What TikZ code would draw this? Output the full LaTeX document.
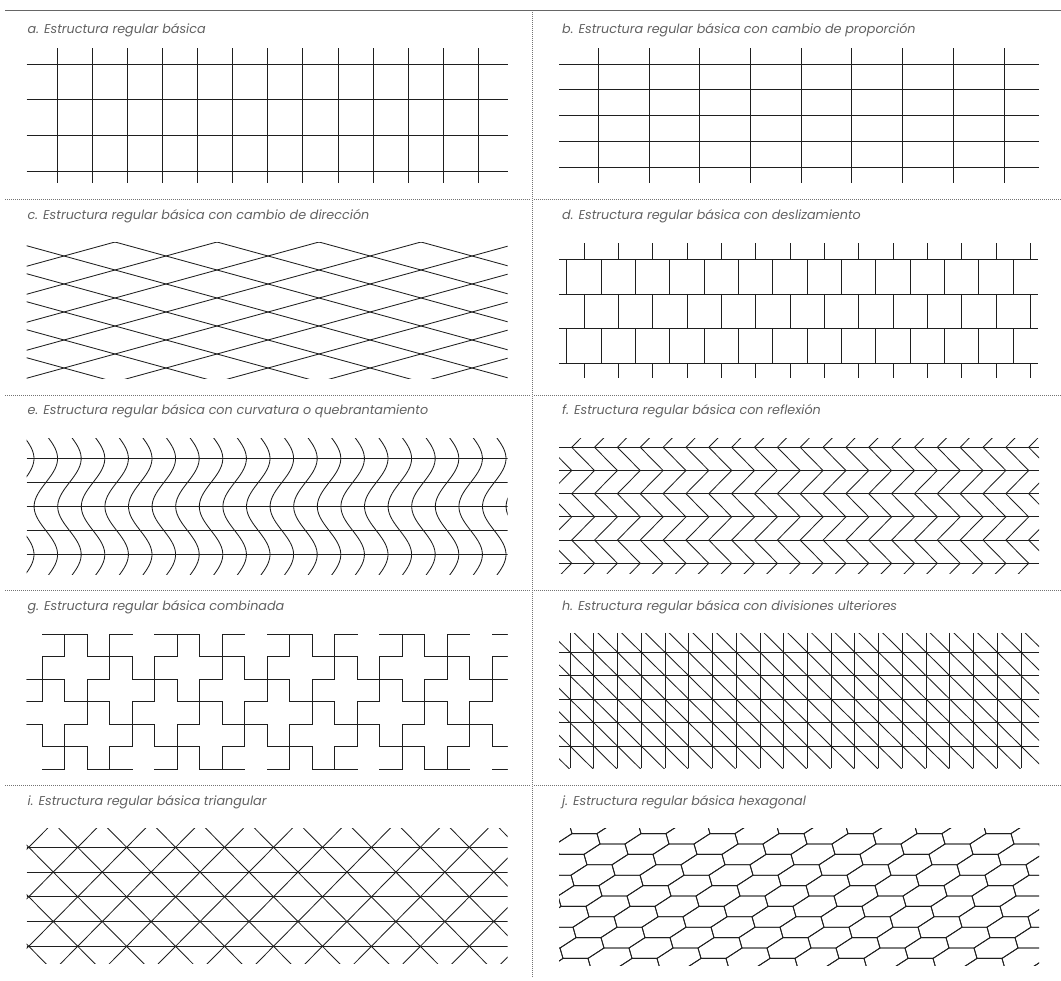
\documentclass[tikz,border=0pt]{standalone}
\usepackage{fontspec}
\newfontfamily\capfont{Poppins}
\usetikzlibrary{calc}

\begin{document}
\begin{tikzpicture}[x=1pt,y=-1pt,
  pat/.style={line width=0.85pt,black!88},
  sep/.style={black!55,line width=0.7pt,dash pattern=on 0.7pt off 1.3pt},
  lbl/.style={anchor=base west,inner sep=0pt,text=black!62,
    font=\capfont\itshape\fontsize{12.75}{15}\selectfont}]
  \useasboundingbox (0,0) rectangle (1061,981);
  % Frame
  \draw[black!60,line width=1.8pt] (5,10.5) -- (1061,10.5);
  \foreach \y in {199.7,395,590,785} {
    \draw[sep] (5,\y) -- (530,\y);
    \draw[sep] (534,\y) -- (1061,\y);
  }
  \draw[sep] (532.3,12) -- (532.3,977);
  % Labels
  \node[lbl] (la) at (27.5,33.5) {a. Estructura regular básica};
  \node[lbl] (lb) at (562,33.5) {b. Estructura regular básica con cambio de proporción};
  \node[lbl] (lc) at (27.5,220) {c. Estructura regular básica con cambio de dirección};
  \node[lbl] (ld) at (562,220) {d. Estructura regular básica con deslizamiento};
  \node[lbl] (le) at (27.5,415) {e. Estructura regular básica con curvatura o quebrantamiento};
  \node[lbl] (lf) at (562,415) {f. Estructura regular básica con reflexión};
  \node[lbl] (lg) at (27.5,610) {g. Estructura regular básica combinada};
  \node[lbl] (lh) at (562,610) {h. Estructura regular básica con divisiones ulteriores};
  \node[lbl] (li) at (27.5,805) {i. Estructura regular básica triangular};
  \node[lbl] (lj) at (562,805) {j. Estructura regular básica hexagonal};

  % a. square grid
  \foreach \k in {0,...,3}
    \draw[pat] (26.7,{64+35.65*\k}) -- (507.7,{64+35.65*\k});
  \foreach \k in {0,...,12}
    \draw[pat] ({57.3+35.08*\k},48.3) -- ({57.3+35.08*\k},183.3);

  % b. changed proportion
  \foreach \k in {0,...,4}
    \draw[pat] (559,{64+25.9*\k}) -- (1039,{64+25.9*\k});
  \foreach \k in {0,...,8}
    \draw[pat] ({598.3+50.71*\k},48.3) -- ({598.3+50.71*\k},183.3);

  % c. changed direction
  \begin{scope}
    \clip (26.7,242.5) rectangle (507.7,378.3);
    \foreach \n in {-5,...,10} {
      \draw[pat] ({13+102*\n-102},214) -- ++(612,168);
      \draw[pat] ({115+102*\n+102},214) -- ++(-612,168);
    }
  \end{scope}

  % d. sliding rows
  \foreach \k in {0,...,3}
    \draw[pat] (559,{259.3+34.67*\k}) -- (1038,{259.3+34.67*\k});
  \foreach \ya/\yb/\xo in {243.3/259.3/584,259.3/294/566.7,294/328.7/584,
                           328.7/363.3/566.7,363.3/378.3/584}
    \foreach \k in {0,...,13}
      \draw[pat] ({\xo+34.35*\k},\ya) -- ({\xo+34.35*\k},\yb);

  % e. curvature
  \begin{scope}
    \clip (26.7,438.3) rectangle (507.7,574);
    \foreach \k in {0,...,4}
      \draw[pat] (26.7,{458.5+24*\k}) -- (507.7,{458.5+24*\k});
    \foreach \k in {0,...,21}
      \draw[pat] plot[domain=430:580,samples=51,smooth]
        ({22.25+23.6*\k+11.75*cos((\x-458.5)*3.75)},\x);
  \end{scope}

  % f. reflection
  \begin{scope}
    \clip (559,438.3) rectangle (1039,573.3);
    \foreach \i in {0,...,5}
      \draw[pat] (559,{447.3+23.2*\i}) -- (1039,{447.3+23.2*\i});
    \foreach \k in {-1,...,21} {
      \pgfmathsetmacro\xa{571.7+22.85*\k}
      \pgfmathsetmacro\xb{\xa+22.85}
      \draw[pat] (\xb,424.1) -- (\xa,447.3) -- (\xb,470.5) -- (\xa,493.7)
        -- (\xb,516.9) -- (\xa,540.1) -- (\xb,563.3) -- (\xa,586.5);
    }
  \end{scope}

  % g. combined (crosses)
  \begin{scope}
    \clip (26.7,634.3) rectangle (507.7,769.3);
    \foreach \a in {-3,...,11}
      \foreach \b in {-4,...,6} {
        \pgfmathsetmacro\cx{42.3+22.5*(1+2*\a+\b)}
        \pgfmathsetmacro\cy{634.3+22.5*(1+\a-2*\b)}
        \draw[pat] (\cx,\cy) ++(0,-22.5) -- ++(22.5,0) -- ++(0,22.5) -- ++(22.5,0)
          -- ++(0,22.5) -- ++(-22.5,0) -- ++(0,22.5) -- ++(-22.5,0) -- ++(0,-22.5)
          -- ++(-22.5,0) -- ++(0,-22.5) -- ++(22.5,0) -- cycle;
      }
  \end{scope}

  % h. further divisions
  \begin{scope}
    \clip (559,633.3) rectangle (1039,768.3);
    \foreach \k in {0,...,4}
      \draw[pat] (559,{652.3+23.45*\k}) -- (1039,{652.3+23.45*\k});
    \foreach \k in {0,...,19}
      \draw[pat] ({570+23.74*\k},633.3) -- ({570+23.74*\k},768.3);
    \foreach \k in {-7,...,21}
      \draw[pat] ({570+23.74*(\k-1)},628.85) -- ++({23.74*7},{23.45*7});
  \end{scope}

  % i. triangular
  \begin{scope}
    \clip (26.7,828.3) rectangle (507.7,963.3);
    \foreach \k in {0,...,4}
      \draw[pat] (26.7,{847.3+24.75*\k}) -- (507.7,{847.3+24.75*\k});
    \foreach \m in {-6,...,13} {
      \draw[pat] ({28.75+48.95*\m-24.475},822.55) -- ++({24.475*7},{24.75*7});
      \draw[pat] ({28.75+48.95*\m+24.475},822.55) -- ++({-24.475*7},{24.75*7});
    }
  \end{scope}

  % j. hexagonal
  \begin{scope}
    \clip (559,828.3) rectangle (1039,965);
    \foreach \k in {-3,...,13}
      \foreach \n in {-6,...,9} {
        \pgfmathsetmacro\hx{600+28*\k+69*\n}
        \pgfmathsetmacro\hy{844+10.4*\k}
        \draw[pat] (\hx,\hy) -- ++(25,0) -- ++(3,10.4) -- ++(-16,10.4)
          -- ++(-25,0) -- ++(-3,-10.4) -- cycle;
      }
  \end{scope}
\end{tikzpicture}
\end{document}
